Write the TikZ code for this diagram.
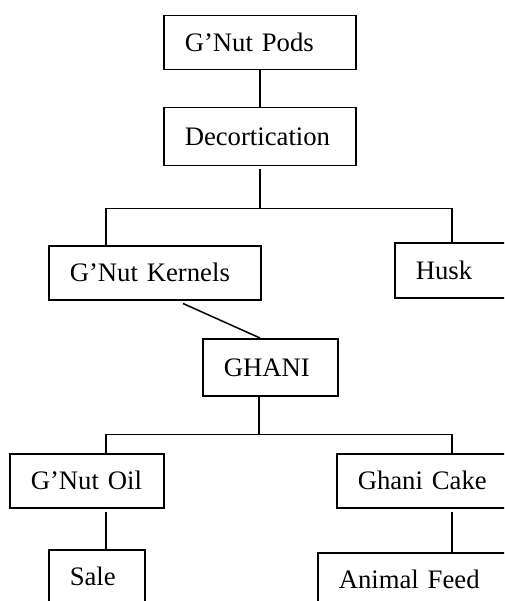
\documentclass[tikz,border=0pt]{standalone}
\usepackage{fontspec}
\setmainfont{Liberation Serif}
\usepackage{tikz}
\usetikzlibrary{positioning}

\begin{document}
\begin{tikzpicture}[x=1pt, y=-1pt,
    stage/.style={draw, line width=1.5pt, anchor=north west, align=left,
        inner xsep=21pt, inner ysep=0pt, text width=#1,
        text height=17.7pt, text depth=0pt, minimum height=54pt,
        font=\fontsize{26.7}{32}\selectfont},
    link/.style={line width=1.5pt}]
    % 0. Khung hinh
    \useasboundingbox (0,0) rectangle (504,601);
    \clip (0,0) rectangle (504,601);

    % 1. Cac o
    \node[stage=150pt] (pods) at (163,15) {G’Nut Pods};
    \node[stage=150pt, minimum height=58pt] (decort) at (163,107) {Decortication};
    \node[stage=170pt] (kernels) at (48,245) {G’Nut Kernels};
    \node[stage=98pt, minimum height=55pt] (husk) at (394,242) {Husk};
    \node[stage=93pt, minimum height=57pt] (ghani) at (202,338) {GHANI};
    \node[stage=112pt] (oil) at (9,453) {G’Nut Oil};
    \node[stage=158pt] (cake) at (336,453) {Ghani Cake};
    \node[stage=54pt] (sale) at (48,549) {Sale};
    \node[stage=178pt] (feed) at (317,552) {Animal Feed};

    % 2. Duong noi
    \draw[link] (pods.south) -- (decort.north);
    \draw[link] ([yshift=-3pt]decort.south) -- ++(0,39) coordinate (fork1);
    \draw[link] ([xshift=58pt]kernels.north west) |- (fork1)
        -| ([xshift=58pt]husk.north west);
    \draw[link] ([xshift=135pt, yshift=-3pt]kernels.south west)
        -- ([xshift=58pt]ghani.north west);

    \draw[link] ([xshift=57pt]ghani.south west) -- ++(0,38) coordinate (fork2);
    \draw[link] ([xshift=97pt]oil.north west) |- (fork2)
        -| ([xshift=116pt]cake.north west);

    % 3. Nhanh duoi
    \draw[link] ([xshift=97pt, yshift=-3pt]oil.south west)
        -- ([xshift=58pt]sale.north west);
    \draw[link] ([xshift=116pt, yshift=-3pt]cake.south west)
        -- ([xshift=135pt]feed.north west);
\end{tikzpicture}
\end{document}
